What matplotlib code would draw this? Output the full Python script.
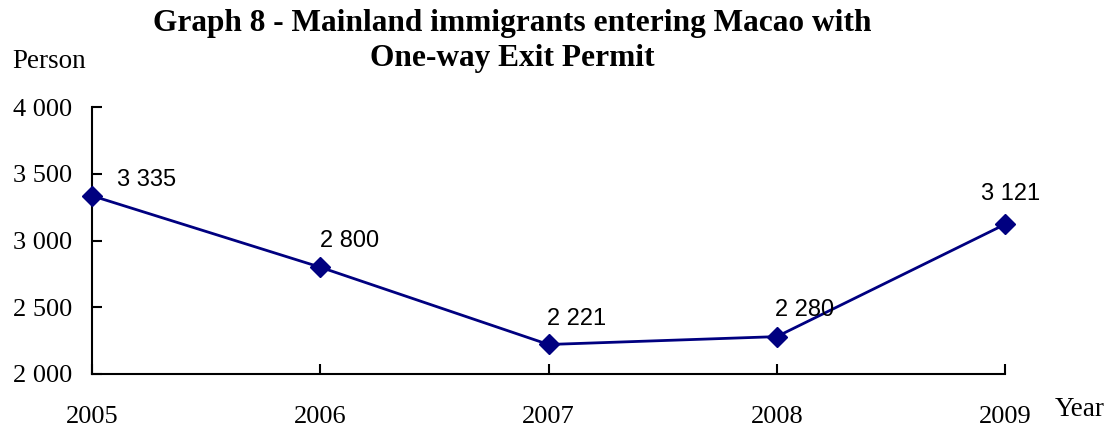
import matplotlib.pyplot as plt
from matplotlib.ticker import FuncFormatter

years = [2005, 2006, 2007, 2008, 2009]
persons = [3335, 2800, 2221, 2280, 3121]
value_labels = ['3 335', '2 800', '2 221', '2 280', '3 121']

title = 'Graph 8 - Mainland immigrants entering Macao with\nOne-way Exit Permit'

# label offsets in points (dx, dy)
label_offsets = [(39, 11), (21, 19), (20, 18), (20, 19), (4, 22)]

serif = 'Liberation Serif'
sans = 'Liberation Sans'

fig = plt.figure(figsize=(11.11, 4.29), dpi=100)
ax = fig.add_axes([92 / 1111, 1 - 374 / 429, (1005 - 92) / 1111, (374 - 107) / 429])

ax.plot(years, persons, color='#000080', lw=2.0, marker='D', markersize=10, clip_on=False, zorder=3)

for x, y, lab, off in zip(years, persons, value_labels, label_offsets):
    ax.annotate(lab, (x, y), xytext=off, textcoords='offset points', ha='center', va='center',
                fontsize=17, family=sans)

ax.set_xlim(2005, 2009)
ax.set_ylim(2000, 4000)
ax.set_xticks(years)
ax.set_yticks([2000, 2500, 3000, 3500, 4000])
ax.yaxis.set_major_formatter(FuncFormatter(lambda v, p: '{:,.0f}'.format(v).replace(',', ' ')))

for s in ['top', 'right']:
    ax.spines[s].set_visible(False)
for s in ['left', 'bottom']:
    ax.spines[s].set_linewidth(1.5)

ax.tick_params(axis='y', direction='in', length=7, width=1.5, pad=14, labelsize=19)
ax.tick_params(axis='x', direction='in', length=7, width=1.5, pad=23, labelsize=19)
for t in ax.get_xticklabels() + ax.get_yticklabels():
    t.set_family(serif)

fig.text(512 / 1111, 1 - 41 / 429, title, ha='center', va='center', fontsize=22.6,
         fontweight='bold', family=serif, linespacing=1.3)
fig.text(12 / 1111, 1 - 62 / 429, 'Person', ha='left', va='center', fontsize=19.5, family=serif)
fig.text(1055 / 1111, 1 - 410 / 429, 'Year', ha='left', va='center', fontsize=19.5, family=serif)

fig.savefig('out.png', dpi=100)
